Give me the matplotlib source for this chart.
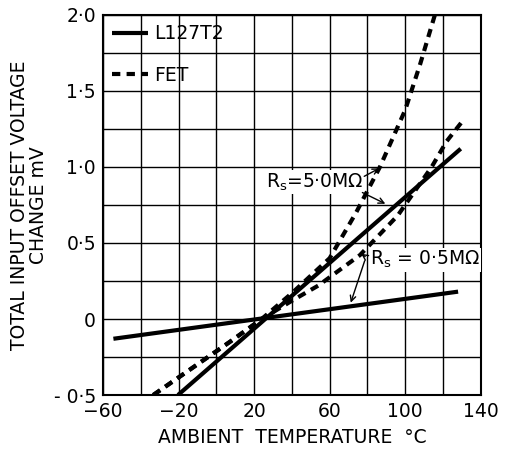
import matplotlib.pyplot as plt

# L127T2 (solid) curves
l127_5M_t = [-20.3, 129.4]
l127_5M_v = [-0.5, 1.12]
l127_05M_t = [-54.5, 128]
l127_05M_v = [-0.13, 0.18]

# FET (dashed) curves
fet_5M_t = [-33.4, 7.2, 24, 40, 60, 74, 86.6, 100, 108, 115.7]
fet_5M_v = [-0.5, -0.15, 0.0, 0.17, 0.40, 0.70, 1.0, 1.375, 1.68, 2.0]
fet_05M_t = [-33.4, 7.2, 24, 40, 54, 76, 96, 114, 122, 131.5]
fet_05M_v = [-0.5, -0.15, 0.0, 0.12, 0.22, 0.42, 0.68, 1.0, 1.17, 1.32]

xtick_labels = ['−60', '−20', '20', '60', '100', '140']
ytick_labels = ['- 0·5', '0', '0·5', '1·0', '1·5', '2·0']

fig = plt.figure(figsize=(5.05, 4.53), dpi=100)
ax = fig.add_axes([0.204, 0.128, 0.748, 0.839])

fs = 13.5
dash = (0, (2.0, 1.5))

ax.plot(l127_5M_t, l127_5M_v, color='black', lw=3, solid_capstyle='butt', label='L127T2')
ax.plot(l127_05M_t, l127_05M_v, color='black', lw=3, solid_capstyle='butt')
ax.plot(fet_5M_t, fet_5M_v, color='black', lw=3, linestyle=dash, label='FET')
ax.plot(fet_05M_t, fet_05M_v, color='black', lw=3, linestyle=dash)

ax.set_xlim(-60, 140)
ax.set_ylim(-0.5, 2.0)
ax.set_xticks(range(-60, 141, 20))
ax.set_yticks([-0.5 + 0.25 * i for i in range(11)])
ax.grid(True, color='black', lw=1.0)
ax.tick_params(length=0, labelsize=fs, pad=5)

# label every second grid line
xlabs = []
ylabs = []
for i in range(11):
    xlabs.append(xtick_labels[i // 2] if i % 2 == 0 else '')
    ylabs.append(ytick_labels[i // 2] if i % 2 == 0 else '')
ax.set_xticklabels(xlabs)
ax.set_yticklabels(ylabs)
for s in ax.spines.values():
    s.set_linewidth(1.5)

ax.set_xlabel('AMBIENT  TEMPERATURE  °C', fontsize=fs, labelpad=5)
ax.set_ylabel('TOTAL INPUT OFFSET VOLTAGE\nCHANGE mV', fontsize=fs, labelpad=4,
              linespacing=1.05)

ax.legend(loc='upper left', bbox_to_anchor=(0.0, 1.0), frameon=False, fontsize=fs,
          handlelength=1.9, handletextpad=0.3, labelspacing=1.2, borderaxespad=0.1)

box = dict(facecolor='white', edgecolor='none', pad=1)
ax.text(77.5, 0.90, 'R$_\\mathrm{s}$=5·0MΩ', fontsize=fs, ha='right', va='center', bbox=box)
ax.text(81.5, 0.39, 'R$_\\mathrm{s}$ = 0·5MΩ', fontsize=fs, ha='left', va='center', bbox=box)

arr = dict(arrowstyle='->', color='black', lw=1.0)
ax.annotate('', xy=(87.6, 1.0), xytext=(77, 0.93), arrowprops=arr)
ax.annotate('', xy=(90.8, 0.75), xytext=(76, 0.84), arrowprops=arr)
ax.annotate('', xy=(70.7, 0.09), xytext=(79, 0.40), arrowprops=arr)
ax.annotate('', xy=(75.5, 0.44), xytext=(80, 0.40), arrowprops=arr)

fig.savefig('out.png', dpi=100)
